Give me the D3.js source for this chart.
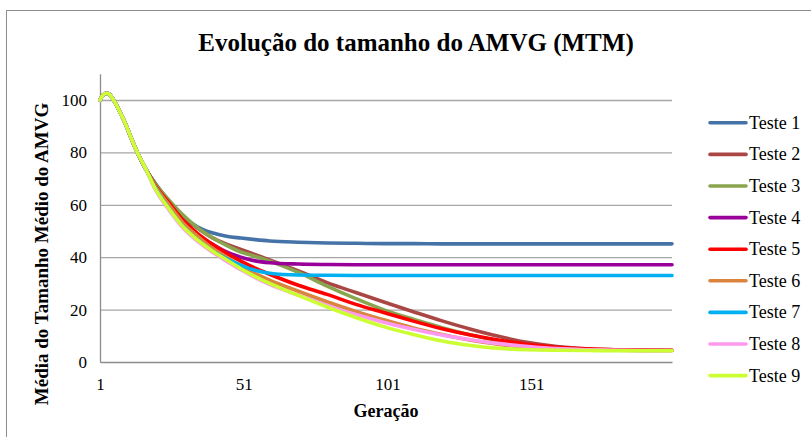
<!DOCTYPE html>
<html>
<head>
<meta charset="utf-8">
<script src="https://cdn.jsdelivr.net/npm/d3@7"></script>
<style>
  html, body { margin: 0; padding: 0; background: #ffffff; }
  svg { display: block; }
  svg text { font-family: 'Liberation Serif', 'Times New Roman', Times, serif; fill: #000; }
</style>
</head>
<body>
<svg id="chart" width="811" height="437"></svg>
<script>
// Generations at which the average size was recorded
const generations = [1, 2, 3, 4, 5, 6, 7, 8, 9, 10, 12, 14, 17, 20, 25, 30, 35, 40, 45, 50, 55, 60,
  70, 80, 90, 100, 110, 120, 130, 140, 150, 160, 170, 180, 190, 200];

// Shared start of every run (generations 1..17)
const start = [100, 101.8, 102.6, 102.4, 101.2, 99.5, 97.5, 95.2, 93, 90.5, 85, 80, 73.5];

const teste1 = start.concat([68.5, 61.5, 55.5, 51.5, 49.3, 48, 47.3, 46.7, 46.2,
  45.7, 45.4, 45.3, 45.2, 45.2, 45.1, 45.1, 45.1, 45.1, 45.1, 45.1, 45.1, 45.1, 45.1]);
const teste2 = start.concat([68.3, 61.5, 55.5, 51, 47.5, 45, 43, 41, 39,
  34.8, 30.3, 26.5, 22.8, 19.2, 15.7, 12.5, 9.7, 7.4, 5.9, 5.0, 4.7, 4.6, 4.5]);
const teste3 = start.concat([68.3, 61.8, 56, 51.2, 47.5, 44.5, 42, 40.3, 38.5,
  34.2, 29, 24.2, 19.8, 16.3, 13.1, 10.3, 8.0, 6.3, 5.2, 4.7, 4.5, 4.4, 4.4]);
const teste4 = start.concat([67.5, 60, 53.5, 48.5, 45, 42, 40, 38.6, 37.9,
  37.4, 37.2, 37.1, 37.1, 37.1, 37.1, 37.1, 37.1, 37.1, 37.1, 37.1, 37.1, 37.1, 37.1]);
const teste5 = start.concat([67.8, 60.8, 54, 49, 45, 41.5, 38.5, 35.8, 33.5,
  29.3, 25.8, 22, 18.8, 15.6, 12.7, 10.3, 8.3, 6.7, 5.6, 5.0, 4.7, 4.6, 4.5]);
const teste6 = start.concat([67.5, 60, 53, 48, 43.5, 40, 36.7, 33.7, 31.2,
  27, 23, 19.3, 16, 13, 10.5, 8.3, 6.7, 5.5, 4.9, 4.6, 4.5, 4.4, 4.4]);
const teste7 = start.concat([66.8, 58.5, 51.5, 46.5, 42.5, 39.5, 37, 35, 33.9,
  33.2, 33.1, 33.0, 33.0, 33.0, 33.0, 33.0, 33.0, 33.0, 33.0, 33.0, 33.0, 33.0, 33.0]);
const teste8 = start.concat([66.3, 58, 51, 46, 42, 38.5, 35.2, 32.2, 29.6,
  25.5, 21.6, 18.1, 15.1, 12.5, 10.3, 8.5, 7.0, 5.9, 5.1, 4.7, 4.5, 4.4, 4.4]);
const teste9 = start.concat([66.6, 58.5, 51.5, 46.5, 42.5, 39, 35.6, 32.6, 30,
  25.4, 21, 17, 13.4, 10.5, 8.0, 6.3, 5.2, 4.7, 4.5, 4.4, 4.3, 4.3, 4.3]);

const seriesNames = ["Teste 1", "Teste 2", "Teste 3", "Teste 4", "Teste 5",
  "Teste 6", "Teste 7", "Teste 8", "Teste 9"];
const seriesValues = [teste1, teste2, teste3, teste4, teste5, teste6, teste7, teste8, teste9];
const seriesColors = ["#4572A7", "#AA4643", "#89A54E", "#990099", "#FF0000",
  "#DB843D", "#00B0F0", "#FF99F0", "#CCFF33"];

const xTickValues = [1, 51, 101, 151];
const yTickValues = [0, 20, 40, 60, 80, 100];

const titleText = "Evolução do tamanho do AMVG (MTM)";
const xTitle = "Geração";
const yTitle = "Média do Tamanho Médio do AMVG";

const serif = "'Liberation Serif', 'Times New Roman', Times, serif";
const svg = d3.select("#chart");

// Outer chart frame
svg.append("rect")
  .attr("x", 6.5).attr("y", 10.5)
  .attr("width", 820).attr("height", 440)
  .attr("fill", "none").attr("stroke", "#8c8c8c").attr("stroke-width", 1);

const plot = { left: 100, right: 672, top: 73.8, bottom: 362 };

const x = d3.scaleLinear().domain([1, 200]).range([plot.left, plot.right]);
const y = d3.scaleLinear().domain([0, 110]).range([plot.bottom, plot.top]);

// Horizontal gridlines
svg.append("g")
  .attr("transform", `translate(${plot.left},0)`)
  .call(d3.axisRight(y).tickValues(yTickValues.filter(v => v > 0))
    .tickSize(plot.right - plot.left).tickFormat(""))
  .call(g => g.select(".domain").remove())
  .call(g => g.selectAll("line").attr("stroke", "#a6a6a6").attr("stroke-width", 1.3));

// Y axis
svg.append("g")
  .attr("transform", `translate(${plot.left},0)`)
  .call(d3.axisLeft(y).tickValues(yTickValues).tickSize(0).tickPadding(13))
  .call(g => g.attr("font-family", serif))
  .call(g => g.select(".domain").attr("stroke", "#8c8c8c").attr("stroke-width", 1.3))
  .call(g => g.selectAll("text").attr("font-size", 17).style("font-family", serif));

// X axis
svg.append("g")
  .attr("transform", `translate(0,${plot.bottom})`)
  .call(d3.axisBottom(x).tickValues(xTickValues).tickSize(0).tickPadding(16)
    .tickFormat(d3.format("d")))
  .call(g => g.attr("font-family", serif))
  .call(g => g.select(".domain").attr("stroke", "#8c8c8c").attr("stroke-width", 1.3))
  .call(g => g.selectAll("text").attr("font-size", 17).style("font-family", serif));

// Series lines
const line = d3.line()
  .x((d, i) => x(generations[i]))
  .y(d => y(d))
  .curve(d3.curveMonotoneX);

svg.append("g")
  .selectAll("path")
  .data(seriesValues)
  .join("path")
  .attr("d", d => line(d))
  .attr("fill", "none")
  .attr("stroke", (d, i) => seriesColors[i])
  .attr("stroke-width", 3.6)
  .attr("stroke-linejoin", "round")
  .attr("stroke-linecap", "round");

// Titles
svg.append("text")
  .attr("x", 416).attr("y", 51)
  .attr("text-anchor", "middle")
  .attr("font-size", 25).attr("font-weight", "bold")
  .style("font-family", serif)
  .text(titleText);

svg.append("text")
  .attr("x", 386).attr("y", 417)
  .attr("text-anchor", "middle")
  .attr("font-size", 18).attr("font-weight", "bold")
  .style("font-family", serif)
  .text(xTitle);

svg.append("text")
  .attr("transform", `translate(48,254) rotate(-90)`)
  .attr("text-anchor", "middle")
  .attr("font-size", 19).attr("font-weight", "bold")
  .style("font-family", serif)
  .text(yTitle);

// Legend
const legend = svg.append("g");
const legendRows = legend.selectAll("g")
  .data(seriesNames)
  .join("g")
  .attr("transform", (d, i) => `translate(710,${122.8 + i * 31.6})`);
legendRows.append("line")
  .attr("x1", 0).attr("x2", 36)
  .attr("stroke", (d, i) => seriesColors[i])
  .attr("stroke-width", 3.6)
  .attr("stroke-linecap", "round");
legendRows.append("text")
  .attr("x", 39).attr("y", 6)
  .attr("font-size", 18)
  .style("font-family", serif)
  .text(d => d);
</script>
</body>
</html>
